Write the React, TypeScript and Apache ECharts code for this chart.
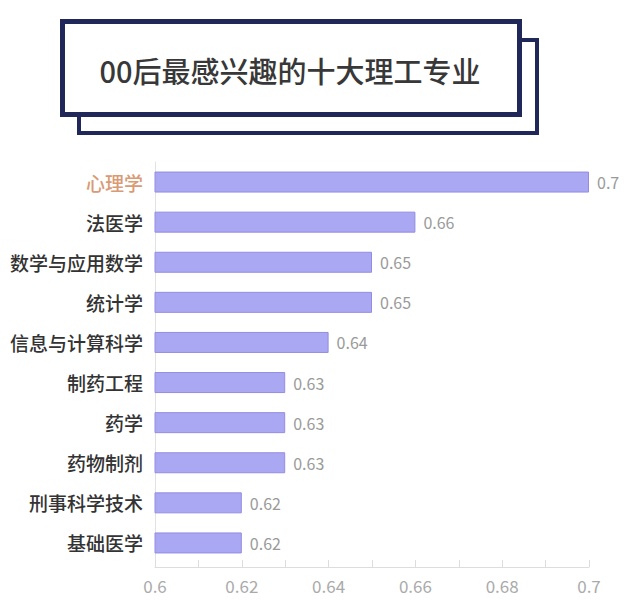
import * as echarts from "echarts";
import { useEffect, useRef } from "react";

const majors = ["心理学", "法医学", "数学与应用数学", "统计学", "信息与计算科学", "制药工程", "药学", "药物制剂", "刑事科学技术", "基础医学"];
const scores = [0.7, 0.66, 0.65, 0.65, 0.64, 0.63, 0.63, 0.63, 0.62, 0.62];
const titleText = "00后最感兴趣的十大理工专业";

const FONT = '"Noto Sans CJK SC", "Noto Sans", sans-serif';

const App = () => {
  const chartRef = useRef<HTMLDivElement>(null);

  useEffect(() => {
    document.body.style.margin = "0";
    if (!chartRef.current) return;
    const myChart = echarts.init(chartRef.current, null, { renderer: "svg" });

    const option = {
      animation: false,
      backgroundColor: "#ffffff",
      textStyle: { fontFamily: FONT },
      grid: { left: 155, right: 51, top: 162, height: 401, containLabel: false },
      graphic: [
        {
          type: "rect",
          shape: { x: 79, y: 40, width: 458, height: 93 },
          style: { fill: "#ffffff", stroke: "#1f2858", lineWidth: 4 },
        },
        {
          type: "rect",
          shape: { x: 62.5, y: 21.5, width: 457, height: 93 },
          style: { fill: "#ffffff", stroke: "#1f2858", lineWidth: 5 },
        },
        {
          type: "text",
          x: 290,
          y: 70,
          style: {
            text: titleText,
            fontSize: 29,
            fontWeight: 500,
            fontFamily: FONT,
            fill: "#383838",
            align: "center",
            verticalAlign: "middle",
          },
        },
      ],
      xAxis: {
        type: "value",
        min: 0.6,
        max: 0.7,
        interval: 0.01,
        offset: 4,
        axisLine: { show: true, lineStyle: { color: "#dddddd" } },
        axisTick: { show: true, inside: true, length: 7, lineStyle: { color: "#dddddd" } },
        splitLine: { show: false },
        axisLabel: {
          color: "#aaaaaa",
          fontSize: 17,
          margin: 10,
          fontFamily: FONT,
          formatter: (v: number) => (Math.round(v * 100) % 2 === 0 ? String(+v.toFixed(2)) : ""),
        },
      },
      yAxis: {
        type: "category",
        inverse: true,
        data: majors,
        axisLine: { show: true, lineStyle: { color: "#e2e2e2" } },
        axisTick: { show: false },
        axisLabel: {
          fontSize: 19,
          fontWeight: 500,
          margin: 12,
          fontFamily: FONT,
          color: (_v: string, i: number) => (i === 0 ? "#d99a74" : "#333333"),
        },
      },
      series: [
        {
          type: "bar",
          data: scores,
          barWidth: 21,
          itemStyle: { color: "#aaa7f3", borderColor: "#938de0", borderWidth: 1 },
          label: {
            show: true,
            position: "right",
            distance: 8,
            color: "#9a9a9a",
            fontSize: 16,
            fontFamily: FONT,
          },
        },
      ],
    };

    myChart.setOption(option);

    return () => {
      myChart.dispose();
    };
  }, []);

  return <div ref={chartRef} style={{ width: 640, height: 607 }} />;
};

export default App;
